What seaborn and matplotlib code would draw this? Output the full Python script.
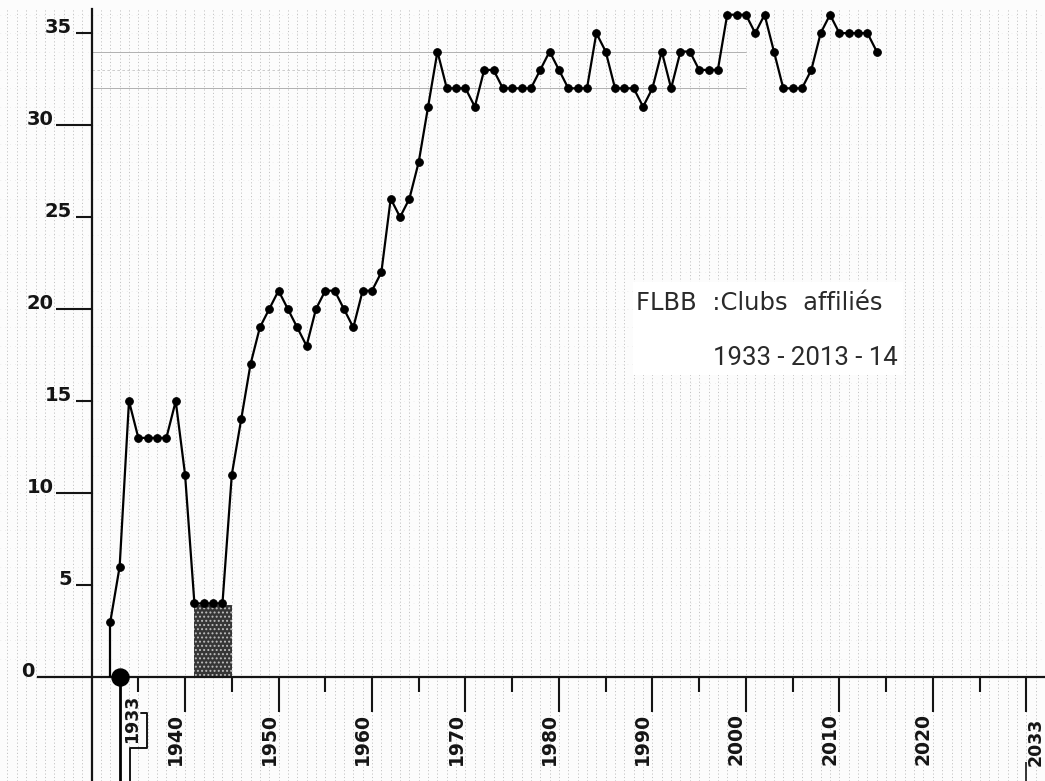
import numpy as np
import pandas as pd
import matplotlib.pyplot as plt
import seaborn as sns
from matplotlib.patches import Rectangle

# Nombre de clubs affiliés par saison
years = list(range(1932, 2015))
clubs = [3, 6, 15, 13, 13, 13, 13, 15, 11, 4, 4, 4, 4, 11, 14, 17, 19, 20, 21, 20,
         19, 18, 20, 21, 21, 20, 19, 21, 21, 22, 26, 25, 26, 28, 31, 34, 32, 32, 32, 31,
         33, 33, 32, 32, 32, 32, 33, 34, 33, 32, 32, 32, 35, 34, 32, 32, 32, 31, 32, 34,
         32, 34, 34, 33, 33, 33, 36, 36, 36, 35, 36, 34, 32, 32, 32, 33, 35, 36, 35, 35,
         35, 35, 34]

founding_year = 1933
war_years = [1941, 1945]
war_level = 3.9

y_major = [10, 20, 30]
y_minor = [5, 15, 25, 35]
x_major = [1940, 1950, 1960, 1970, 1980, 1990, 2000, 2010, 2020, 2030]
x_major_labels = ['1940', '1950', '1960', '1970', '1980', '1990', '2000', '2010', '2020', '']
x_minor = [1935, 1945, 1955, 1965, 1975, 1985, 1995, 2005, 2015, 2025]

title_line1 = 'FLBB  :Clubs  affiliés'
title_line2 = '1933 - 2013 - 14'

df = pd.DataFrame({'year': years, 'clubs': clubs})

sns.set_theme(style='ticks')
plt.rcParams['font.family'] = ['DejaVu Sans']
plt.rcParams['hatch.linewidth'] = 0.9

ink = '#141414'
fig = plt.figure(figsize=(10.45, 7.81), dpi=100)
ax = fig.add_axes([0, 0, 1, 1])
paper = '#fcfcfc'
fig.patch.set_facecolor(paper)
ax.set_facecolor(paper)
x0, x1 = 1920.2, 2032.0
y0, y1 = -5.65, 36.8
ax.set_xlim(x0, x1)
ax.set_ylim(y0, y1)

# papier millimétré
ax.vlines(np.arange(1921, 2032), y0, 36.3, colors='#b4b4b4', lw=0.55,
          linestyles=(0, (1.5, 3)), zorder=0)
ax.hlines(np.arange(1, 37), x0, x1, colors='#e0e0e0', lw=0.5,
          linestyles=(0, (1, 6)), zorder=0)
ax.hlines([34, 32], 1930, 2000, colors='#b0b0b0', lw=0.7, zorder=1)
ax.hlines([33], 1930, 1975, colors='#c4c4c4', lw=0.6, linestyles=(0, (3, 3)), zorder=1)

# axes
for s in ['top', 'right']:
    ax.spines[s].set_visible(False)
ax.spines['left'].set_position(('data', 1930))
ax.spines['bottom'].set_position(('data', 0))
ax.spines['left'].set_bounds(y0, 36.3)
ax.spines['bottom'].set_bounds(1924.3, x1)
for s in ['left', 'bottom']:
    ax.spines[s].set_color(ink)
    ax.spines[s].set_linewidth(1.6)

ax.set_yticks(y_major)
ax.set_yticklabels([str(v) for v in y_major])
ax.set_yticks(y_minor, minor=True)
ax.set_yticklabels([str(v) for v in y_minor], minor=True)
ax.set_xticks(x_major)
ax.set_xticklabels(x_major_labels)
ax.set_xticks(x_minor, minor=True)
ax.set_xticklabels([], minor=True)

ax.tick_params(axis='y', which='major', left=True, direction='out', length=26,
               width=1.5, pad=1.5, labelsize=14, color=ink, labelcolor=ink)
ax.tick_params(axis='y', which='minor', left=True, direction='out', length=11.5,
               width=1.5, pad=2.5, labelsize=14, color=ink, labelcolor=ink)
ax.tick_params(axis='x', which='major', bottom=True, direction='out', length=25,
               width=1.5, pad=1, labelsize=13.5, labelrotation=90,
               color=ink, labelcolor=ink)
ax.tick_params(axis='x', which='minor', bottom=True, direction='out', length=11,
               width=1.5, color=ink)
for lab in ax.get_yticklabels(which='both'):
    lab.set_fontweight('bold')
    lab.set_va('baseline')
for lab in ax.get_xticklabels():
    lab.set_fontweight('bold')
    lab.set_ha('right')
ax.text(1923.9, 0, '0', ha='right', va='baseline', fontsize=14,
        fontweight='bold', color=ink)
ax.set_xlabel('')
ax.set_ylabel('')

# période de guerre
ax.fill_between(war_years, 0, war_level, facecolor='#363636', edgecolor='#bdbdbd',
                hatch='....', lw=0, zorder=2)

# courbe
ax.vlines(years[0], 0, clubs[0], color='black', lw=1.6, zorder=4)
sns.lineplot(data=df, x='year', y='clubs', ax=ax, color='black', lw=1.6,
             marker='o', markersize=5.5, markeredgecolor='black', zorder=4)
ax.set_xlabel('')
ax.set_ylabel('')
ax.vlines(founding_year, y0, 0, color='black', lw=2, zorder=4)
ax.scatter([founding_year], [0], s=150, color='black', zorder=5, clip_on=False)

# annotation 1933 avec crochet
ax.text(founding_year + 1.3, -0.95, str(founding_year), rotation=90, ha='center',
        va='top', fontsize=12.5, fontweight='bold', color=ink)
bracket_x = [1935.3, 1935.95, 1935.95, 1934.1, 1934.1]
bracket_y = [-1.96, -1.96, -3.86, -3.86, y0]
ax.plot(bracket_x, bracket_y, color=ink, lw=1.4)
ax.text(2030.95, -2.2, '2033', rotation=90, ha='center', va='top', fontsize=12.5,
        fontweight='bold', color=ink)
ax.vlines(2029.95, -4.6, y0, color=ink, lw=1.2)

# titre
ax.add_patch(Rectangle((1987.9, 16.41), 28.9, 5.06, facecolor='white',
                       edgecolor='none', zorder=3))
ax.text(1988.2, 19.95, title_line1, ha='left', va='baseline', fontsize=17.5,
        color='#2a2a2a', zorder=4, family=['DejaVu Sans'])
ax.text(2016.2, 16.96, title_line2, ha='right', va='baseline', fontsize=18.5,
        color='#2a2a2a', zorder=4, family=['Roboto'])

fig.savefig('out.png', dpi=100, facecolor=paper)
